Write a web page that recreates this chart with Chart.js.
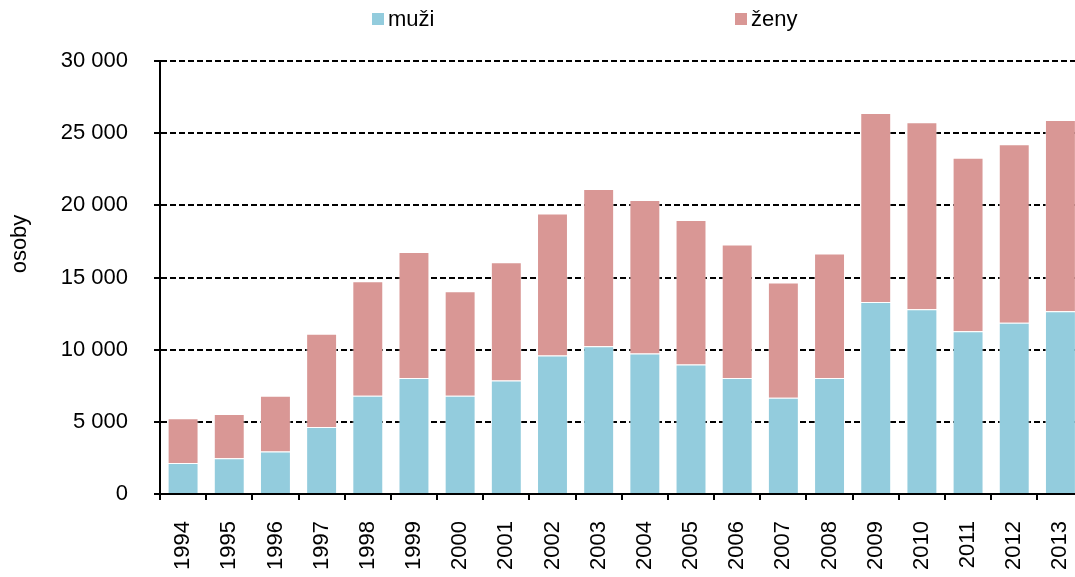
<!DOCTYPE html>
<html>
<head>
<meta charset="utf-8">
<script src="https://cdn.jsdelivr.net/npm/chart.js@4/dist/chart.umd.min.js"></script>
<style>
  html, body { margin: 0; padding: 0; background: #fff; overflow: hidden; }
  #wrap { position: relative; width: 1075px; height: 577px; overflow: hidden; }
  #myChart { position: absolute; left: 0; top: 0; }
  .leg { position: absolute; top: 6px; font: 22px "Liberation Sans", Arial, sans-serif; color: #000; white-space: nowrap; }
  .leg span { display: inline-block; width: 12px; height: 12px; margin-right: 4px; vertical-align: 1px; }
</style>
</head>
<body>
<div id="wrap">
  <canvas id="myChart" width="1108" height="577"></canvas>
  <div id="legend"></div>
</div>
<script>
// data
const years = ["1994", "1995", "1996", "1997", "1998", "1999", "2000", "2001", "2002", "2003",
  "2004", "2005", "2006", "2007", "2008", "2009", "2010", "2011", "2012", "2013"];
const muzi = [2150, 2470, 2940, 4650, 6800, 8030, 6800, 7870, 9600, 10230,
  9740, 8980, 8030, 6670, 8030, 13300, 12800, 11270, 11870, 12660];
const zeny = [3100, 3080, 3860, 6460, 7940, 8730, 7250, 8190, 9840, 10900,
  10630, 10000, 9260, 7980, 8640, 13090, 12960, 12030, 12370, 13260];
const yTicks = [0, 5000, 10000, 15000, 20000, 25000, 30000];

const FONT = "'Liberation Sans', Arial, sans-serif";

function fmt(v) {
  return String(v).replace(/\B(?=(\d{3})+(?!\d))/g, " ");
}

// y axis title drawn at the spot used in the reference
const yTitle = {
  id: "yTitle",
  afterDraw(chart) {
    const c = chart.ctx;
    c.save();
    c.translate(20, 244);
    c.rotate(-Math.PI / 2);
    c.font = "22px " + FONT;
    c.fillStyle = "#000";
    c.textAlign = "center";
    c.textBaseline = "middle";
    c.fillText("osoby", 0, 0);
    c.restore();
  },
};

const datasets = [
  { label: "muži", data: muzi, backgroundColor: "#93CCDD", borderColor: "rgba(255,255,255,0.45)", borderWidth: 1 },
  { label: "ženy", data: zeny, backgroundColor: "#D99795", borderColor: "rgba(255,255,255,0.45)", borderWidth: 1 },
];

// html legend
const legend = document.getElementById("legend");
const legLeft = [372, 735];
datasets.forEach((ds, i) => {
  const d = document.createElement("div");
  d.className = "leg";
  d.style.left = legLeft[i] + "px";
  d.innerHTML = '<span style="background:' + ds.backgroundColor + '"></span>' + ds.label;
  legend.appendChild(d);
});

Chart.defaults.font.family = FONT;
Chart.defaults.color = "#000";

new Chart(document.getElementById("myChart"), {
  type: "bar",
  data: { labels: years, datasets: datasets },
  options: {
    responsive: false,
    animation: false,
    layout: { padding: { top: 61, left: 0, right: 7, bottom: 0 } },
    datasets: { bar: { categoryPercentage: 1, barPercentage: 0.67 } },
    plugins: { legend: { display: false }, tooltip: { enabled: false } },
    scales: {
      x: {
        stacked: true,
        afterFit: (s) => { s.height = 83; },
        grid: { display: true, drawOnChartArea: false, offset: true, tickLength: 6, tickColor: "#000", lineWidth: 2 },
        border: { display: true, color: "#000", width: 2 },
        ticks: { font: { size: 22 }, minRotation: 90, maxRotation: 90, padding: 21, autoSkip: false },
      },
      y: {
        stacked: true,
        min: 0,
        max: 30000,
        afterFit: (s) => { s.width = 160; },
        afterBuildTicks: (s) => { s.ticks = yTicks.map((v) => ({ value: v })); },
        grid: {
          color: (c) => (c.tick && c.tick.value === 0 ? "rgba(0,0,0,0)" : "#000"),
          lineWidth: 2,
          tickLength: 6,
          tickColor: "#000",
          tickBorderDash: [],
        },
        border: { display: true, color: "#000", width: 2, dash: [6, 3] },
        ticks: { font: { size: 22 }, padding: 26, callback: (v) => fmt(v) },
      },
    },
  },
  plugins: [yTitle],
});
</script>
</body>
</html>
